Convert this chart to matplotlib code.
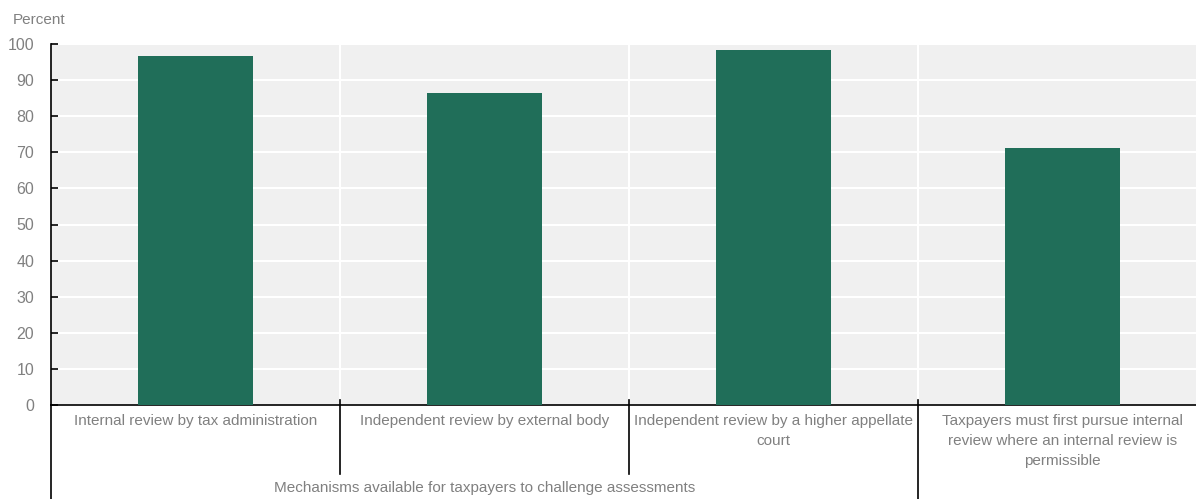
import matplotlib.pyplot as plt
import numpy as np

# data
categories = ["Internal review by tax administration",
              "Independent review by external body",
              "Independent review by a higher appellate\ncourt",
              "Taxpayers must first pursue internal\nreview where an internal review is\npermissible"]
values = [96.7, 86.4, 98.3, 71.2]
group_label = "Mechanisms available for taxpayers to challenge assessments"
yticks = [0, 10, 20, 30, 40, 50, 60, 70, 80, 90, 100]

plt.rcParams['font.family'] = ['Liberation Sans', 'DejaVu Sans']
grey = '#808080'
bar_color = '#206e59'

fig = plt.figure(figsize=(11.96, 4.99), dpi=100)
ax = fig.add_axes([51 / 1196, 94 / 499, 1156 / 1196, 361 / 499])
ax.set_facecolor('#f0f0f0')

x = np.arange(len(categories))
ax.bar(x, values, width=0.4, color=bar_color, zorder=3)

ax.set_xlim(-0.5, len(categories) - 0.5)
ax.set_ylim(0, 100)
ax.set_yticks(yticks)
ax.set_xticks([])
ax.tick_params(axis='y', direction='in', length=5, width=1.2, color='black',
               labelcolor=grey, labelsize=11.5, pad=12)

# white grid: horizontal at ticks, vertical at category boundaries
for y in yticks[1:]:
    ax.axhline(y, color='white', lw=1.5, zorder=1)
for b in np.arange(0.5, len(categories) - 0.5):
    ax.axvline(b, color='white', lw=1.5, zorder=1)

for s in ['top', 'right']:
    ax.spines[s].set_visible(False)
ax.spines['left'].set_linewidth(1.2)
ax.spines['bottom'].set_linewidth(1.2)

trans = ax.get_xaxis_transform()
# extend left spine and category separators below the axis
ax.plot([-0.5, -0.5], [0, -0.27], color='black', lw=1.2, transform=trans, clip_on=False)
for b in [0.5, 1.5]:
    ax.plot([b, b], [0.014, -0.191], color='black', lw=1.2, transform=trans, clip_on=False)
ax.plot([2.5, 2.5], [0.014, -0.27], color='black', lw=1.2, transform=trans, clip_on=False)

for i, lab in enumerate(categories):
    ax.text(i, -0.026, lab, transform=trans, ha='center', va='top', fontsize=11,
            color=grey, linespacing=1.55)

ax.text(1, -0.23, group_label, transform=trans, ha='center', va='center',
        fontsize=11, color=grey)

fig.text(13 / 1196, 1 - 20 / 499, "Percent", ha='left', va='center', fontsize=11, color=grey)

fig.savefig('out.png', dpi=100)
